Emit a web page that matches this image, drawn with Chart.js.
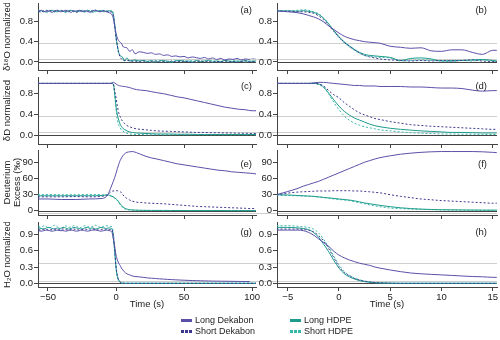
<!DOCTYPE html>
<html>
<head>
<meta charset="utf-8">
<script src="https://cdn.jsdelivr.net/npm/chart.js@4.4.1/dist/chart.umd.min.js"></script>
<style>
  body { margin: 0; background: #fff; }
  #fig { position: relative; width: 500px; height: 340px; overflow: hidden; font-family: "Liberation Sans", Arial, sans-serif; }
  #fig canvas { position: absolute; }
  .key { position: absolute; height: 11px; line-height: 11px; font-size: 9px; color: #222; white-space: nowrap; display: flex; align-items: center; }
  .key span { display: inline-block; width: 11px; height: 3px; margin-right: 3px; }
</style>
</head>
<body>
<div id="fig"></div>
<script>
// time axes (s)
const timeNoisy = [-57,-55,-53,-51,-49,-47,-45,-43,-41,-39,-37,-35,-33,-31,-29,-27,-25,-23,-21,-19,-17,-15,-13,-11,-9,-7,-5,-3,
  -2,-1,0,1,2,3,4,5,6,8,10,12,14,17,20,23,26,29,32,35,38,41,44,47,50,53,56,59,62,65,68,71,74,77,80,83,86,89,92,95,98,101,103];
const timeSmooth = [-57.5,-50,-40,-30,-20,-10,-6,-4,-2,-1,0,1,2,3,4,5,6,8,10,12,15,18,22,26,30,35,40,45,50,55,60,65,70,75,80,85,90,95,100,103];
const timeZoom = [-6.1,-5,-4,-3.5,-3,-2.5,-2,-1.5,-1,-0.5,0,0.5,1,1.5,2,2.5,3,3.5,4,5,6,7,8,9,10,11,12,13,14,15,15.4];

// (a) d18O normalized
const aLongDek = [1.0,1.02,0.99,1.01,1.0,0.98,1.01,1.02,0.99,1.0,1.02,1.0,0.98,1.01,1.0,1.02,0.99,1.01,1.0,0.98,1.01,1.02,1.0,0.99,1.01,0.99,0.97,0.93,
  0.86,0.71,0.57,0.47,0.42,0.39,0.37,0.31,0.29,0.28,0.21,0.24,0.16,0.2,0.19,0.17,0.18,0.15,0.16,0.13,0.14,0.11,0.12,0.1,0.11,0.08,0.1,0.085,0.07,0.09,0.06,0.08,0.05,0.07,0.04,0.06,0.05,0.07,0.04,0.06,0.05,0.06,0.05];
const aShortDek = [1.0,0.98,1.01,1.0,1.02,0.99,1.0,1.01,0.99,1.02,1.0,0.99,1.01,1.0,0.98,1.0,1.02,1.0,0.99,1.01,1.0,1.02,0.99,1.0,1.01,1.0,0.99,0.98,
  0.91,0.72,0.49,0.31,0.18,0.1,0.06,0.04,0.03,0.03,0.03,0.01,0.02,0.0,0.02,-0.01,0.01,0.02,0.0,0.01,-0.01,0.02,0.0,0.01,0.02,0.0,-0.01,0.01,0.02,0.0,0.01,-0.01,0.01,0.0,0.02,0.0,0.01,-0.01,0.01,0.02,0.0,0.01,0.0];
const aLongHdpe = [0.99,1.01,1.0,0.98,1.01,1.02,1.0,0.99,1.01,1.0,0.98,1.01,1.02,1.0,0.99,1.0,1.01,0.99,1.02,1.0,0.98,1.01,1.0,1.02,0.99,1.0,1.01,1.0,
  0.94,0.75,0.5,0.32,0.19,0.13,0.11,0.09,0.03,0.08,0.02,0.03,0.04,0.02,0.03,0.01,0.03,0.0,0.02,0.03,0.01,0.0,0.02,0.03,0.01,0.02,0.0,0.03,0.01,0.02,0.03,0.0,0.02,0.01,0.03,0.02,0.0,0.02,0.01,0.03,0.01,0.02,0.02];
const aShortHdpe = [1.02,1.0,0.99,1.02,1.0,1.01,0.98,1.0,1.02,1.01,0.99,1.0,1.02,0.99,1.01,1.02,1.0,0.98,1.01,1.0,1.02,0.99,1.01,1.0,1.02,1.01,0.99,1.02,
  0.95,0.75,0.48,0.3,0.17,0.11,0.09,0.08,0.02,0.04,0.02,0.03,0.02,0.01,0.03,0.02,0.0,0.02,0.03,0.01,0.02,0.0,0.03,0.01,0.02,0.01,0.03,0.0,0.02,0.01,0.02,0.03,0.01,0.0,0.02,0.01,0.03,0.01,0.02,0.0,0.02,0.01,0.01];

// (b) d18O normalized, zoomed
const bLongDek = [1.01,0.99,0.97,0.95,0.92,0.89,0.85,0.79,0.71,0.64,0.57,0.51,0.47,0.44,0.42,0.4,0.39,0.38,0.37,0.31,0.29,0.27,0.28,0.22,0.21,0.24,0.24,0.19,0.15,0.23,0.23];
const bShortDek = [1.0,1.0,0.99,0.99,0.98,0.96,0.91,0.83,0.72,0.6,0.49,0.39,0.31,0.24,0.18,0.13,0.1,0.08,0.06,0.04,0.03,0.02,0.03,0.02,0.03,0.02,0.03,0.04,0.02,0.01,0.01];
const bLongHdpe = [1.0,1.01,1.0,1.01,1.0,0.98,0.94,0.86,0.75,0.62,0.5,0.4,0.32,0.25,0.19,0.15,0.13,0.12,0.11,0.09,0.03,0.07,0.08,0.06,0.02,0.03,0.03,0.04,0.05,0.03,0.02];
const bShortHdpe = [1.02,1.0,1.02,1.03,1.02,0.99,0.95,0.87,0.75,0.61,0.48,0.38,0.3,0.23,0.17,0.13,0.11,0.1,0.09,0.08,0.02,0.03,0.04,0.03,0.02,0.01,0.03,0.02,0.04,0.02,0.01];

// (c) dD normalized
const cLongDek = [1.0,1.0,1.0,1.0,1.0,1.0,1.0,1.0,1.02,1.01,0.99,0.97,0.96,0.95,0.95,0.94,0.94,0.93,0.92,0.9,0.88,0.87,0.86,0.84,0.82,0.8,0.77,0.74,0.72,0.69,0.66,0.63,0.6,0.57,0.54,0.52,0.5,0.49,0.47,0.47];
const cShortDek = [1.0,1.0,1.0,1.0,1.0,1.0,1.0,1.0,0.99,0.86,0.72,0.56,0.43,0.36,0.3,0.26,0.23,0.185,0.16,0.14,0.12,0.11,0.1,0.09,0.08,0.075,0.07,0.065,0.06,0.055,0.05,0.05,0.045,0.045,0.04,0.04,0.035,0.035,0.03,0.03];
const cLongHdpe = [1.0,1.0,1.0,1.0,1.0,1.0,1.0,1.0,0.99,0.81,0.56,0.39,0.29,0.21,0.16,0.13,0.11,0.08,0.06,0.05,0.04,0.035,0.03,0.025,0.02,0.02,0.02,0.015,0.015,0.015,0.01,0.01,0.01,0.01,0.01,0.01,0.01,0.01,0.01,0.01];
const cShortHdpe = [1.0,1.0,1.0,1.0,1.0,1.0,1.0,1.0,0.98,0.79,0.49,0.29,0.19,0.14,0.1,0.08,0.06,0.035,0.02,0.015,0.01,0.01,0.005,0.005,0.005,0.005,0.005,0.005,0.005,0.005,0.005,0.005,0.005,0.005,0.005,0.005,0.005,0.005,0.005,0.005];

// (d) dD normalized, zoomed
const dLongDek = [1.0,1.0,1.0,1.0,1.0,1.01,1.02,1.02,1.01,1.0,0.99,0.98,0.97,0.96,0.96,0.95,0.95,0.95,0.94,0.94,0.94,0.93,0.93,0.92,0.91,0.91,0.9,0.87,0.85,0.86,0.86];
const dShortDek = [1.0,1.0,1.0,1.0,1.0,1.0,0.99,0.95,0.86,0.78,0.72,0.63,0.56,0.49,0.43,0.39,0.355,0.32,0.3,0.26,0.23,0.2,0.185,0.17,0.16,0.15,0.14,0.13,0.12,0.11,0.11];
const dLongHdpe = [1.0,1.0,1.0,1.0,1.0,1.0,0.99,0.93,0.81,0.68,0.56,0.46,0.39,0.33,0.29,0.25,0.21,0.18,0.16,0.13,0.11,0.095,0.08,0.07,0.06,0.05,0.05,0.045,0.04,0.04,0.04];
const dShortHdpe = [1.0,1.0,1.0,1.0,1.0,1.0,0.98,0.92,0.79,0.63,0.49,0.37,0.29,0.23,0.19,0.16,0.14,0.12,0.1,0.08,0.06,0.045,0.035,0.03,0.02,0.02,0.015,0.015,0.01,0.01,0.01];

// (e) deuterium excess (permil)
const eLongDek = [22,22,21,21,22,23,30,42,55,62,70,79,87,94,99,103,106,109.5,110.5,111,109,106,102,99,97,94,91,88,86,84,82,80,78,76,75,73,72,71,70,69];
const eShortDek = [26,26,26,26.5,26,27,30,35,37,37,37.5,37.5,37,36,33.5,30,27,23,20,18,16,15.5,14.5,14,13.5,13,12,11,10,9,8,7.5,7,6.5,6,5.5,5,4.5,4,4];
const eLongHdpe = [28,28,28,28,28,28.5,30,28,26,24,22,20,16.5,13,10,7.5,5.5,3,1.8,1.4,1,0.8,0.6,0.5,0.5,0.5,0.4,0.4,0.4,0.3,0.3,0.3,0.3,0.3,0.2,0.2,0.2,0.2,0.2,0.2];
const eShortHdpe = [30,30.5,30,30,30.5,30,29,28,25.5,23.5,21,19,15,11,7.5,5,3.8,2.4,1.6,1.1,0.8,0.6,0.5,0.4,0.4,0.3,0.3,0.3,0.3,0.2,0.2,0.2,0.2,0.2,0.2,0.1,0.1,0.1,0.1,0.1];

// (f) deuterium excess, zoomed
const fLongDek = [30,36,42,46,49,52,55,59,63,67,71,75,79,83,87,91,94,97,99.5,103,106,108,109.5,110.5,111,111,111,111,110.5,109.5,109];
const fShortDek = [30,33,35,35.5,36,36.5,37,37,37,37.5,37.5,37.5,37.5,37,37,36,35.5,34.5,33.5,30,27,24.5,22,20.5,19,18,17,16,15,14,14];
const fLongHdpe = [30,29.5,28.5,28,27.5,27,26,25,24,23,22,21,20,18.5,16.5,14.5,13,11.5,10,7.5,5.5,4,3,2.3,1.8,1.6,1.4,1.2,1,1,1];
const fShortHdpe = [29,28.5,28,27.5,27,26.5,25.5,24.5,23.5,22,21,20,19,17,15,13,11,9,7.5,5,3.8,3,2.4,2,1.6,1.3,1.1,1,0.9,0.8,0.8];

// (g) H2O normalized
const gLongDek = [0.97,0.96,0.97,0.98,0.97,0.96,0.97,0.98,0.97,0.97,0.96,0.97,0.98,0.97,0.96,0.97,0.98,0.97,0.96,0.97,0.98,0.98,0.97,0.96,0.97,0.98,0.97,0.94,
  0.82,0.68,0.52,0.43,0.37,0.33,0.28,0.245,0.215,0.175,0.155,0.135,0.125,0.118,0.11,0.1,0.094,0.088,0.082,0.077,0.072,0.068,0.064,0.06,0.057,0.054,0.051,0.049,0.047,0.045,0.043,0.041,0.04,0.039,0.038,0.037,0.036,0.035,0.034,0.033,0.032,0.032,0.031];
const gShortDek = [0.99,0.98,1.0,0.99,0.98,0.99,1.0,0.98,0.99,1.0,0.99,0.98,0.99,1.0,0.99,0.98,0.99,1.0,0.99,0.98,1.0,0.99,0.98,0.99,1.0,0.99,0.99,0.99,
  0.88,0.64,0.31,0.14,0.06,0.025,0.01,0.005,0,0,0,0,0,0,0,0,0,0,0,0,0,0,0,0,0,0,0,0,0,0,0,0,0,0,0,0,0,0,0,0,0,0,0];
const gLongHdpe = [1.02,1.01,1.0,1.02,1.03,1.01,1.0,1.02,1.01,1.03,1.02,1.0,1.01,1.03,1.02,1.01,1.0,1.02,1.03,1.01,1.02,1.0,1.01,1.03,1.02,1.01,1.02,1.0,
  0.85,0.58,0.28,0.12,0.05,0.02,0.005,0,0,0,0,0,0,0,0,0,0,0,0,0,0,0,0,0,0,0,0,0,0,0,0,0,0,0,0,0,0,0,0,0,0,0,0];
const gShortHdpe = [1.05,1.03,1.06,1.04,1.02,1.05,1.07,1.04,0.98,1.03,1.06,1.03,1.04,1.06,1.05,1.02,1.04,1.06,1.05,1.03,1.05,1.07,1.04,1.03,1.05,1.06,1.05,1.04,
  0.93,0.67,0.34,0.15,0.065,0.025,0.01,0.005,0,0,0,0,0,0,0,0,0,0,0,0,0,0,0,0,0,0,0,0,0,0,0,0,0,0,0,0,0,0,0,0,0,0,0];

// (h) H2O normalized, zoomed
const hLongDek = [0.98,0.98,0.98,0.97,0.94,0.89,0.82,0.75,0.68,0.59,0.52,0.47,0.43,0.4,0.37,0.35,0.33,0.3,0.28,0.245,0.215,0.19,0.175,0.165,0.155,0.145,0.135,0.125,0.12,0.11,0.11];
const hShortDek = [1.0,1.0,1.0,0.99,0.98,0.95,0.88,0.78,0.64,0.47,0.31,0.2,0.14,0.09,0.06,0.04,0.025,0.015,0.01,0.005,0,0,0,0,0,0,0,0,0,0,0];
const hLongHdpe = [1.03,1.03,1.02,1.01,0.99,0.94,0.85,0.72,0.58,0.42,0.28,0.18,0.12,0.08,0.05,0.03,0.02,0.01,0.005,0,0,0,0,0,0,0,0,0,0,0,0];
const hShortHdpe = [1.06,1.06,1.05,1.04,1.03,1.0,0.93,0.81,0.67,0.5,0.34,0.22,0.15,0.1,0.065,0.04,0.025,0.015,0.01,0.005,0,0,0,0,0,0,0,0,0,0,0];

const seriesNames = ['Long Dekabon', 'Short Dekabon', 'Long HDPE', 'Short HDPE'];
const seriesColors = ['#5a50a8', '#3b3690', '#1d9b8b', '#33b8a9'];
const seriesDash = [[], [2, 2], [], [2, 2]];

const xTicksLong = [-50, 0, 50, 100];
const xTicksShort = [-5, 0, 5, 10, 15];
const yTicksNorm = [0, 0.4, 0.8];
const yTicksExcess = [0, 30, 60, 90];
const yTicksWater = [0, 0.3, 0.6, 0.9];

Chart.defaults.font.family = '"Liberation Sans", Arial, sans-serif';
Chart.defaults.font.size = 9.5;
Chart.defaults.color = '#222';

const fig = document.getElementById('fig');

// plot area spans: left 38..256, right 277..497
const cols = [
  { left: 0, width: 264, padR: 8, axisW: 38, min: -57.35, max: 102.9, ticks: xTicksLong, labelOff: 4 },
  { left: 250, width: 253, padR: 6, axisW: 27, min: -6.05, max: 15.42, ticks: xTicksShort, labelOff: 10 }
];
const rows = [
  { top: 3, h: 67, min: -0.158, max: 1.163, ticks: yTicksNorm, dec: 1, title: 'δ¹⁸O normalized', gray: [0.368, 0.05], labelY: 7 },
  { top: 77, h: 67, min: -0.174, max: 1.124, ticks: yTicksNorm, dec: 1, title: 'δD normalized', gray: [0.368, 0.05], labelY: 9 },
  { top: 150, h: 65, min: -8.07, max: 113.9, ticks: yTicksExcess, dec: 0, title: ['Deuterium', 'Excess (‰)'], gray: [-3.5], labelY: 14 },
  { top: 222, h: 65, min: -0.068, max: 1.129, ticks: yTicksWater, dec: 1, title: 'H₂O normalized', gray: [0.368, 0.05], labelY: 10 }
];

function fmtNum(v, d) {
  const s = Math.abs(v).toFixed(d);
  return v < 0 ? '\u2212' + s : s;
}

// reference lines under the data, panel letter on top
const panelLines = {
  id: 'panelLines',
  beforeDraw(chart, args, o) {
    const { ctx, chartArea: a } = chart;
    const y = chart.scales.y;
    ctx.save();
    ctx.strokeStyle = '#cfcfcf';
    ctx.lineWidth = 1.2;
    o.gray.forEach(v => {
      const py = Math.round(y.getPixelForValue(v)) + 0.5;
      ctx.beginPath();
      ctx.moveTo(o.fromEdge ? 0 : a.left, py);
      ctx.lineTo(a.right, py);
      ctx.stroke();
    });
    const z = Math.round(y.getPixelForValue(0)) + 0.5;
    ctx.strokeStyle = '#444';
    ctx.lineWidth = 1;
    ctx.beginPath();
    ctx.moveTo(a.left, z);
    ctx.lineTo(a.right, z);
    ctx.stroke();
    ctx.restore();
  },
  afterDraw(chart, args, o) {
    const { ctx, chartArea: a } = chart;
    ctx.save();
    ctx.font = '9.5px "Liberation Sans", Arial, sans-serif';
    ctx.fillStyle = '#222';
    ctx.textAlign = 'right';
    ctx.textBaseline = 'middle';
    ctx.fillText(o.label, a.right - o.labelOff, a.top + o.labelY);
    ctx.restore();
  }
};

function drawPanel(row, col, label, time, sets) {
  const r = rows[row], c = cols[col];
  const bottom = row === 3;
  const xh = bottom ? 26 : 6;
  const cv = document.createElement('canvas');
  cv.width = c.width;
  cv.height = r.h + xh;
  cv.style.left = c.left + 'px';
  cv.style.top = r.top + 'px';
  fig.appendChild(cv);

  new Chart(cv, {
    type: 'line',
    data: {
      datasets: sets.map((vals, i) => ({
        label: seriesNames[i],
        data: time.map((t, k) => ({ x: t, y: vals[k] })),
        borderColor: seriesColors[i],
        borderWidth: 1,
        borderDash: seriesDash[i],
        pointRadius: 0,
        cubicInterpolationMode: 'monotone',
        fill: false
      }))
    },
    options: {
      responsive: false,
      animation: false,
      events: [],
      layout: { padding: { left: 0, top: 0, bottom: 0, right: c.padR } },
      plugins: {
        legend: { display: false },
        tooltip: { enabled: false },
        panelLines: { label: label, gray: r.gray, labelOff: c.labelOff, labelY: r.labelY, fromEdge: col === 1 }
      },
      scales: {
        x: {
          type: 'linear', min: c.min, max: c.max, bounds: 'data',
          afterBuildTicks: s => { s.ticks = c.ticks.map(v => ({ value: v })); },
          afterFit: s => { s.height = xh; s.paddingLeft = 0; s.paddingRight = 0; },
          grid: { drawOnChartArea: false, drawTicks: true, tickLength: 4, tickColor: '#444' },
          border: { color: '#444', width: 1 },
          ticks: { display: bottom, padding: 1, maxRotation: 0, autoSkip: false, callback: v => fmtNum(v, 0) },
          title: { display: bottom, text: 'Time (s)', padding: { top: 0, bottom: 3.5 }, font: { size: 9.5, lineHeight: 1 } }
        },
        y: {
          type: 'linear', min: r.min, max: r.max, bounds: 'data',
          afterBuildTicks: s => { s.ticks = r.ticks.map(v => ({ value: v })); },
          afterFit: s => { s.width = c.axisW; s.paddingTop = 0; s.paddingBottom = 0; },
          grid: { drawOnChartArea: false, drawTicks: true, tickLength: 4, tickColor: '#444' },
          border: { color: '#444', width: 1 },
          ticks: { padding: 1, autoSkip: false, callback: v => fmtNum(v, r.dec) },
          title: { display: col === 0, text: r.title, padding: { top: 3, bottom: 0 }, font: { size: 9.5, lineHeight: 1 } }
        }
      }
    },
    plugins: [panelLines]
  });
}

drawPanel(0, 0, '(a)', timeNoisy, [aLongDek, aShortDek, aLongHdpe, aShortHdpe]);
drawPanel(0, 1, '(b)', timeZoom, [bLongDek, bShortDek, bLongHdpe, bShortHdpe]);
drawPanel(1, 0, '(c)', timeSmooth, [cLongDek, cShortDek, cLongHdpe, cShortHdpe]);
drawPanel(1, 1, '(d)', timeZoom, [dLongDek, dShortDek, dLongHdpe, dShortHdpe]);
drawPanel(2, 0, '(e)', timeSmooth, [eLongDek, eShortDek, eLongHdpe, eShortHdpe]);
drawPanel(2, 1, '(f)', timeZoom, [fLongDek, fShortDek, fLongHdpe, fShortHdpe]);
drawPanel(3, 0, '(g)', timeNoisy, [gLongDek, gShortDek, gLongHdpe, gShortHdpe]);
drawPanel(3, 1, '(h)', timeZoom, [hLongDek, hShortDek, hLongHdpe, hShortHdpe]);

// legend
const keyPos = [[181, 314.5], [181, 325.5], [290, 314.5], [290, 325.5]];
seriesNames.forEach((name, i) => {
  const d = document.createElement('div');
  d.className = 'key';
  d.style.left = keyPos[i][0] + 'px';
  d.style.top = keyPos[i][1] + 'px';
  const sw = document.createElement('span');
  const col = seriesColors[i];
  sw.style.background = seriesDash[i].length
    ? 'repeating-linear-gradient(90deg, ' + col + ' 0 3px, transparent 3px 4px)'
    : col;
  d.appendChild(sw);
  d.appendChild(document.createTextNode(name));
  fig.appendChild(d);
});
</script>
</body>
</html>
